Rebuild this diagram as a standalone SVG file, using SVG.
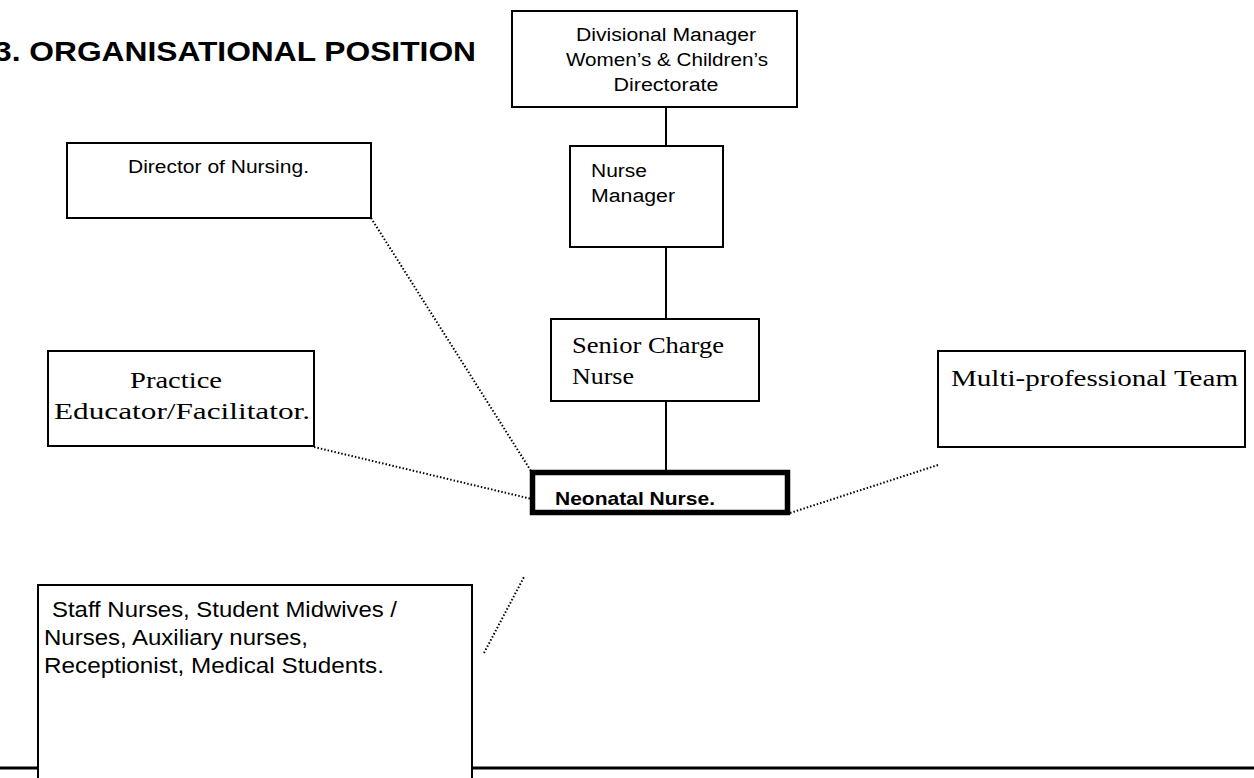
<svg xmlns="http://www.w3.org/2000/svg" width="1254" height="778" viewBox="0 0 1254 778">
<style>
.box{fill:#fff;stroke:#000;stroke-width:2}
.thick{fill:#fff;stroke:#000;stroke-width:5.5}
.solid{stroke:#000;stroke-width:2;fill:none}
.dot{stroke:#000;stroke-width:2;fill:none;stroke-dasharray:1.5 2}
.sans{font-family:"Liberation Sans",Arial,sans-serif;fill:#000}
.serif{font-family:"Liberation Serif","Times New Roman",serif;fill:#000}
</style>
<rect x="0" y="0" width="1254" height="778" fill="#fff"/>
<line x1="0" y1="768" x2="1254" y2="768" stroke="#000" stroke-width="3"/>
<text class="sans" x="-6" y="61" font-size="28" font-weight="bold" textLength="482" lengthAdjust="spacingAndGlyphs">3. ORGANISATIONAL POSITION</text>
<g id="connectors">
<line class="solid" x1="666" y1="107" x2="666" y2="146"/>
<line class="solid" x1="666" y1="247" x2="666" y2="319"/>
<line class="solid" x1="666" y1="401" x2="666" y2="471"/>
<line class="dot" x1="371" y1="218" x2="531" y2="471"/>
<line class="dot" x1="314" y1="447" x2="540" y2="501"/>
<line class="dot" x1="938" y1="465" x2="790" y2="513"/>
<line class="dot" x1="484" y1="653" x2="524" y2="577"/>
</g>
<g id="divisional">
<rect class="box" x="512" y="11" width="285" height="96"/>
<text class="sans" x="666" y="41" font-size="18" text-anchor="middle" textLength="180" lengthAdjust="spacingAndGlyphs">Divisional Manager</text>
<text class="sans" x="667" y="66" font-size="18" text-anchor="middle" textLength="202" lengthAdjust="spacingAndGlyphs">Women’s &amp; Children’s</text>
<text class="sans" x="666" y="91" font-size="18" text-anchor="middle" textLength="105" lengthAdjust="spacingAndGlyphs">Directorate</text>
</g>
<g id="nurse-manager">
<rect class="box" x="570" y="146" width="153" height="101"/>
<text class="sans" x="591" y="177" font-size="18" textLength="56" lengthAdjust="spacingAndGlyphs">Nurse</text>
<text class="sans" x="591" y="202" font-size="18" textLength="84" lengthAdjust="spacingAndGlyphs">Manager</text>
</g>
<g id="director">
<rect class="box" x="67" y="143" width="304" height="75"/>
<text class="sans" x="128" y="173" font-size="17.5" textLength="181" lengthAdjust="spacingAndGlyphs">Director of Nursing.</text>
</g>
<g id="senior-charge">
<rect class="box" x="551" y="319" width="208" height="82"/>
<text class="serif" x="572" y="353" font-size="24" textLength="152" lengthAdjust="spacingAndGlyphs">Senior Charge</text>
<text class="serif" x="572" y="384" font-size="24" textLength="62" lengthAdjust="spacingAndGlyphs">Nurse</text>
</g>
<g id="practice">
<rect class="box" x="48" y="351" width="266" height="95"/>
<text class="serif" x="130" y="388" font-size="24" textLength="92" lengthAdjust="spacingAndGlyphs">Practice</text>
<text class="serif" x="54" y="419" font-size="24" textLength="256" lengthAdjust="spacingAndGlyphs">Educator/Facilitator.</text>
</g>
<g id="multi">
<rect class="box" x="938" y="351" width="307" height="96"/>
<text class="serif" x="951" y="386" font-size="24" textLength="287" lengthAdjust="spacingAndGlyphs">Multi-professional Team</text>
</g>
<g id="neonatal">
<rect class="thick" x="532.5" y="472.5" width="255" height="40"/>
<text class="sans" x="555" y="505" font-size="18.5" font-weight="bold" textLength="160" lengthAdjust="spacingAndGlyphs">Neonatal Nurse.</text>
</g>
<g id="staff">
<rect class="box" x="38" y="585" width="434" height="200"/>
<text class="sans" x="52" y="617" font-size="22" textLength="345" lengthAdjust="spacingAndGlyphs">Staff Nurses, Student Midwives /</text>
<text class="sans" x="44" y="645" font-size="22" textLength="264" lengthAdjust="spacingAndGlyphs">Nurses, Auxiliary nurses,</text>
<text class="sans" x="44" y="673" font-size="22" textLength="340" lengthAdjust="spacingAndGlyphs">Receptionist, Medical Students.</text>
</g>
</svg>
